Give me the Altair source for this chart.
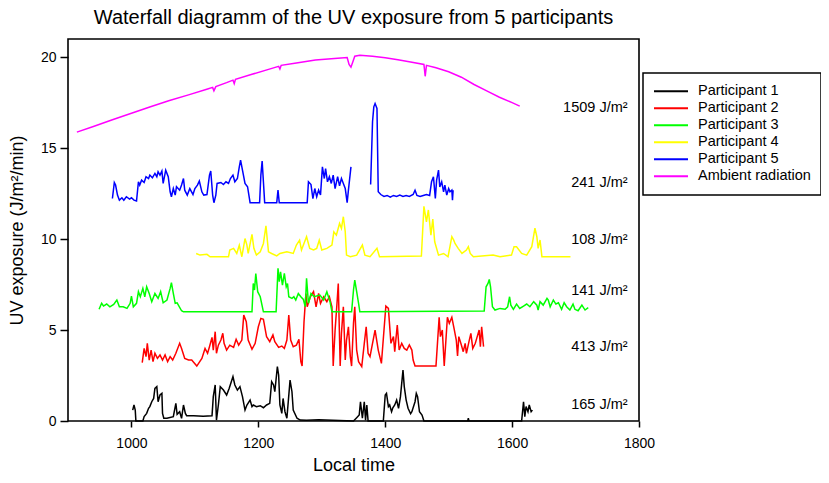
import altair as alt
import pandas as pd

FONT = "Liberation Sans"

chart_title = "Waterfall diagramm of the UV exposure from 5 participants"

names = ["Participant 1", "Participant 2", "Participant 3", "Participant 4",
         "Participant 5", "Ambient radiation"]
colors = ["#000000", "#ff0000", "#00ff00", "#ffff00", "#0000ff", "#ff00ff"]

# Participant 1 (black)
p1_t = [1002, 1004, 1006, 1007, 1018, 1020, 1024, 1027, 1029, 1032,
        1035, 1037, 1040, 1042, 1045, 1048, 1049, 1051, 1056, 1066,
        1070, 1072, 1076, 1079, 1082, 1085, 1087, 1098, 1113, 1127,
        1129, 1132, 1134, 1137, 1140, 1145, 1150, 1154, 1160, 1163,
        1167, 1171, 1175, 1179, 1182, 1187, 1190, 1192, 1197, 1203,
        1208, 1213, 1218, 1221, 1224, 1226, 1230, 1232, 1234, 1237,
        1239, 1242, 1245, 1250, 1253, 1255, 1261, 1266, 1276, 1295,
        1350, 1355, 1359, 1361, 1364, 1367, 1369, 1371, 1373, 1397,
        1400, 1402, 1405, 1407, 1410, 1412, 1415, 1418, 1421, 1424,
        1428, 1430, 1433, 1436, 1440, 1442, 1447, 1449, 1451, 1454,
        1458, 1461, 1530, 1531, 1532, 1615, 1618, 1620, 1622, 1625,
        1627, 1630, 1632]
p1_v = [0.60, 0.88, 0.60, 0.0, 0.0, 0.24, 0.42, 0.70, 0.79, 1.06,
        1.24, 1.79, 1.89, 1.06, 1.43, 1.52, 0.42, 0.15, 0.15, 0.24,
        0.97, 0.37, 0.51, 0.15, 0.88, 0.42, 0.29, 0.29, 0.26, 0.29,
        1.34, 1.98, 0.05, 0.88, 1.89, 1.70, 1.43, 1.79, 2.44, 1.98,
        1.70, 1.89, 1.34, 0.60, 0.88, 1.15, 0.79, 0.88, 0.79, 0.84,
        0.73, 0.88, 0.97, 2.16, 1.98, 1.61, 2.99, 2.53, 0.88, 0.42,
        1.24, 0.51, 0.15, 2.25, 1.61, 0.60, 0.15, 0.05, 0.04, 0.07,
        0.0, 0.18, 0.33, 1.06, 0.15, 1.06, 0.05, 0.88, 0.0, 0.0,
        1.43, 1.52, 0.79, 0.88, 0.51, 0.73, 0.88, 1.15, 0.70, 1.34,
        2.80, 1.89, 1.15, 0.70, 0.40, 0.51, 1.06, 1.52, 1.34, 0.51,
        0.33, 0.0, 0.0, 0.15, 0.0, 0.0, 1.06, 0.24, 0.79, 0.51,
        0.88, 0.51, 0.60]

# Participant 2 (red)
p2_t = [1017, 1020, 1023, 1025, 1028, 1031, 1034, 1037, 1041, 1045,
        1049, 1053, 1057, 1061, 1065, 1070, 1076, 1079, 1084, 1090,
        1095, 1103, 1111, 1116, 1120, 1123, 1127, 1129, 1132, 1134,
        1137, 1141, 1144, 1146, 1150, 1155, 1161, 1165, 1169, 1174,
        1177, 1181, 1184, 1190, 1195, 1200, 1204, 1208, 1213, 1218,
        1223, 1226, 1232, 1237, 1241, 1245, 1248, 1251, 1255, 1260,
        1264, 1267, 1269, 1272, 1275, 1277, 1282, 1287, 1291, 1295,
        1298, 1303, 1308, 1312, 1316, 1318, 1321, 1324, 1326, 1329,
        1331, 1334, 1337, 1339, 1342, 1345, 1347, 1350, 1352, 1355,
        1358, 1363, 1367, 1370, 1373, 1376, 1384, 1389, 1394, 1401,
        1405, 1409, 1413, 1415, 1419, 1422, 1426, 1430, 1434, 1438,
        1442, 1444, 1447, 1480, 1482, 1485, 1487, 1490, 1493, 1495,
        1498, 1501, 1505, 1508, 1512, 1514, 1516, 1520, 1523, 1526,
        1528, 1532, 1535, 1538, 1542, 1545, 1548, 1550, 1552, 1555]
p2_v = [3.21, 3.99, 3.54, 4.27, 3.35, 3.90, 3.26, 3.72, 3.44, 3.63,
        3.35, 3.63, 3.26, 3.54, 3.35, 3.72, 4.27, 3.99, 3.44, 3.35,
        3.35, 3.02, 3.44, 3.99, 3.72, 4.08, 4.60, 3.90, 4.91, 3.72,
        4.17, 4.45, 4.82, 4.27, 3.90, 4.17, 4.05, 4.49, 4.17, 4.45,
        5.82, 5.46, 4.45, 3.94, 4.27, 5.18, 5.64, 5.59, 4.63, 4.36,
        4.73, 4.36, 4.05, 4.12, 3.99, 4.45, 5.82, 4.45, 4.08, 4.17,
        4.49, 3.26, 3.02, 5.46, 7.01, 6.28, 6.83, 7.11, 6.28, 7.01,
        6.47, 6.83, 6.56, 6.83, 6.28, 3.02, 5.00, 6.47, 7.56, 3.02,
        4.82, 6.28, 3.35, 4.45, 5.18, 3.54, 3.02, 5.37, 6.28, 3.90,
        3.26, 2.99, 4.27, 5.18, 3.72, 3.54, 5.00, 3.90, 3.17, 6.32,
        6.19, 4.27, 4.64, 3.81, 5.28, 3.90, 4.27, 3.99, 3.90, 4.18,
        3.90, 3.35, 3.02, 3.02, 4.09, 5.70, 4.64, 5.00, 3.02, 4.09,
        5.70, 5.37, 5.70, 5.18, 4.45, 3.57, 4.64, 4.18, 3.81, 4.27,
        3.72, 4.36, 4.82, 3.99, 4.27, 4.64, 5.00, 4.09, 5.18, 4.09]

# Participant 3 (green)
p3_t = [949, 953, 956, 961, 966, 972, 977, 981, 987, 993,
        998, 1000, 1003, 1008, 1011, 1014, 1018, 1021, 1024, 1028,
        1032, 1037, 1042, 1046, 1050, 1056, 1061, 1063, 1066, 1069,
        1072, 1079, 1082, 1190, 1192, 1194, 1196, 1199, 1203, 1208,
        1228, 1231, 1233, 1235, 1238, 1241, 1244, 1246, 1248, 1253,
        1256, 1259, 1263, 1267, 1271, 1274, 1276, 1279, 1283, 1288,
        1297, 1303, 1308, 1313, 1316, 1347, 1350, 1352, 1355, 1358,
        1360, 1556, 1559, 1562, 1564, 1566, 1569, 1573, 1581, 1589,
        1593, 1596, 1598, 1602, 1607, 1612, 1618, 1623, 1628, 1634,
        1639, 1641, 1644, 1649, 1655, 1657, 1660, 1665, 1669, 1673,
        1678, 1682, 1686, 1691, 1696, 1699, 1704, 1710, 1715, 1720]
p3_v = [6.14, 6.47, 6.32, 6.43, 6.28, 6.41, 6.65, 6.28, 6.28, 6.19,
        6.47, 6.87, 6.28, 6.47, 7.11, 6.83, 7.29, 6.83, 7.38, 7.01,
        6.56, 7.01, 6.74, 7.11, 6.50, 6.65, 7.29, 7.60, 7.01, 6.47,
        6.50, 6.06, 6.00, 6.00, 7.56, 7.20, 8.11, 7.11, 6.83, 6.00,
        6.00, 8.39, 7.66, 8.20, 7.47, 8.11, 7.38, 7.56, 6.83, 6.74,
        6.83, 6.65, 7.01, 6.83, 6.68, 6.28, 7.84, 6.47, 7.01, 6.83,
        6.92, 6.65, 7.11, 6.56, 6.00, 6.00, 7.20, 7.75, 7.11, 6.47,
        6.00, 6.05, 7.38, 7.56, 7.78, 7.38, 6.28, 6.10, 6.19, 6.14,
        6.28, 6.83, 6.37, 6.14, 6.43, 6.19, 6.32, 6.43, 6.28, 6.56,
        6.37, 6.10, 6.56, 6.37, 6.74, 6.65, 6.28, 6.65, 6.43, 6.50,
        6.14, 6.50, 6.28, 6.10, 6.43, 6.14, 6.06, 6.37, 6.10, 6.23]

# Participant 4 (yellow)
p4_t = [1102, 1108, 1119, 1124, 1153, 1155, 1161, 1166, 1170, 1174,
        1179, 1182, 1184, 1190, 1193, 1197, 1203, 1208, 1212, 1216,
        1221, 1229, 1234, 1245, 1255, 1260, 1265, 1268, 1276, 1281,
        1287, 1292, 1296, 1300, 1308, 1316, 1319, 1323, 1328, 1331,
        1334, 1337, 1339, 1345, 1355, 1364, 1368, 1376, 1387, 1391,
        1457, 1461, 1465, 1468, 1472, 1475, 1478, 1484, 1492, 1499,
        1505, 1508, 1510, 1515, 1521, 1528, 1531, 1534, 1539, 1570,
        1581, 1599, 1603, 1607, 1615, 1623, 1631, 1636, 1639, 1641,
        1644, 1647, 1655, 1692]
p4_v = [9.21, 9.12, 9.16, 9.03, 9.03, 9.40, 9.49, 9.21, 9.66, 9.03,
        10.03, 9.67, 9.21, 10.26, 9.49, 9.12, 9.30, 9.76, 10.73, 9.30,
        9.21, 9.08, 9.21, 9.30, 9.21, 9.67, 9.94, 9.40, 10.13, 9.49,
        9.40, 9.49, 9.94, 9.40, 9.49, 9.67, 10.40, 10.22, 10.86, 10.59,
        11.23, 10.40, 9.12, 9.03, 9.12, 9.67, 9.12, 9.03, 9.49, 9.03,
        9.07, 11.80, 10.95, 11.60, 10.22, 11.10, 9.85, 9.12, 9.21, 9.03,
        10.13, 9.94, 9.76, 9.49, 9.21, 9.40, 9.58, 9.21, 9.03, 9.12,
        9.03, 9.12, 9.58, 9.58, 9.21, 9.12, 9.58, 10.60, 10.13, 9.49,
        9.95, 9.03, 9.03, 9.03]

# Participant 5 (blue), two recorded stretches
p5a_t = [970, 973, 975, 978, 981, 985, 988, 992, 997, 1000,
         1004, 1008, 1011, 1013, 1016, 1020, 1023, 1027, 1029, 1033,
         1037, 1040, 1042, 1045, 1048, 1050, 1054, 1058, 1061, 1063,
         1066, 1069, 1071, 1076, 1079, 1082, 1084, 1088, 1092, 1097,
         1100, 1104, 1107, 1111, 1114, 1119, 1123, 1125, 1128, 1130,
         1133, 1135, 1141, 1145, 1149, 1153, 1156, 1160, 1163, 1167,
         1170, 1172, 1175, 1179, 1183, 1187, 1202, 1204, 1206, 1208,
         1210, 1229, 1231, 1233, 1277, 1279, 1283, 1286, 1289, 1292,
         1295, 1298, 1301, 1304, 1306, 1309, 1312, 1315, 1318, 1321,
         1325, 1328, 1331, 1334, 1337, 1340, 1342, 1346]
p5a_v = [12.23, 13.11, 12.97, 12.42, 12.14, 12.27, 12.14, 12.33, 12.20, 12.27,
         12.14, 12.09, 13.15, 12.97, 13.24, 13.11, 13.43, 13.33, 13.52, 13.37,
         13.61, 13.43, 13.70, 13.52, 13.74, 13.06, 13.79, 13.43, 12.60, 12.33,
         12.78, 12.42, 12.88, 12.69, 12.97, 13.33, 12.69, 12.42, 12.78, 12.45,
         12.78, 12.97, 13.19, 12.60, 12.42, 12.45, 13.52, 13.74, 12.42, 12.00,
         12.42, 13.06, 13.11, 13.00, 13.15, 13.06, 13.33, 13.52, 13.15, 13.33,
         13.97, 14.34, 13.79, 13.06, 12.88, 12.00, 12.00, 13.52, 14.29, 13.15,
         12.00, 12.00, 12.69, 12.00, 12.00, 13.15, 13.00, 12.23, 12.78, 12.33,
         12.69, 12.42, 13.97, 13.33, 13.88, 13.15, 13.43, 13.06, 13.52, 12.78,
         13.43, 12.93, 13.33, 13.06, 12.78, 12.00, 12.69, 13.97]
p5b_t = [1377, 1380, 1382, 1384, 1387, 1389, 1393, 1398, 1403, 1408,
         1413, 1418, 1423, 1428, 1433, 1438, 1444, 1447, 1450, 1455,
         1460, 1465, 1470, 1473, 1476, 1479, 1481, 1484, 1486, 1489,
         1492, 1494, 1497, 1500, 1502, 1505, 1506, 1507]
p5b_v = [13.00, 16.45, 17.27, 17.45, 17.18, 12.60, 12.45, 12.35, 12.40, 12.30,
         12.40, 12.35, 12.42, 12.35, 12.40, 12.35, 12.45, 12.69, 12.40, 12.35,
         12.40, 12.45, 12.40, 13.15, 13.42, 12.24, 13.24, 13.79, 12.87, 13.15,
         12.60, 12.97, 12.42, 12.78, 12.60, 12.69, 12.14, 12.69]

# Ambient radiation (magenta)
amb_t = [914, 940, 970, 1000, 1030, 1060, 1090, 1120, 1128, 1130,
         1133, 1150, 1160, 1162, 1164, 1190, 1220, 1232, 1234, 1236,
         1260, 1290, 1320, 1340, 1343, 1346, 1349, 1352, 1360, 1380,
         1400, 1420, 1440, 1461, 1463, 1465, 1480, 1500, 1520, 1540,
         1560, 1580, 1600, 1612]
amb_v = [15.88, 16.19, 16.56, 16.92, 17.28, 17.62, 17.93, 18.25, 18.34, 18.15,
         18.38, 18.60, 18.74, 18.55, 18.78, 19.06, 19.37, 19.50, 19.35, 19.55,
         19.68, 19.85, 19.93, 19.98, 19.60, 19.45, 19.75, 20.05, 20.10, 20.05,
         19.97, 19.86, 19.74, 19.60, 18.95, 19.55, 19.42, 19.20, 18.90, 18.50,
         18.15, 17.80, 17.50, 17.31]

# Daily doses written at the right of each trace
dose_labels = ["1509 J/m²", "241 J/m²", "108 J/m²", "141 J/m²", "413 J/m²", "165 J/m²"]
dose_y = [17.18, 13.06, 9.95, 7.14, 4.08, 0.88]
dose_x = [1782] * len(dose_labels)

x_ticks = [1000, 1200, 1400, 1600, 1800]
y_ticks = [0, 5, 10, 15, 20]

rows = []
def add(name, ts, vs, seg):
    for t, v in zip(ts, vs):
        rows.append({"series": name, "time": t, "uv": v, "seg": seg})

add(names[0], p1_t, p1_v, "p1")
add(names[1], p2_t, p2_v, "p2")
add(names[2], p3_t, p3_v, "p3")
add(names[3], p4_t, p4_v, "p4")
add(names[4], p5a_t, p5a_v, "p5a")
add(names[4], p5b_t, p5b_v, "p5b")
add(names[5], amb_t, amb_v, "amb")
df = pd.DataFrame(rows)

text_df = pd.DataFrame({"time": dose_x, "uv": dose_y, "label": dose_labels})
title_df = pd.DataFrame({"title": [chart_title]})

x_enc = alt.X(
    "time:Q",
    scale=alt.Scale(domain=[900, 1800], nice=False, zero=False),
    axis=alt.Axis(values=x_ticks, format="d", title="Local time", grid=False,
                  domain=False, tickSize=6, tickWidth=1.5, tickColor="black",
                  labelFont=FONT, labelFontSize=14, labelColor="black",
                  labelPadding=9, labelFlush=False, labelOverlap=False,
                  titleFont=FONT, titleFontSize=18, titleFontWeight="normal",
                  titleColor="black", titleX=285.5, titleY=44.5,
                  titleBaseline="middle", titleAlign="center"),
)
y_enc = alt.Y(
    "uv:Q",
    scale=alt.Scale(domain=[0, 21], nice=False, zero=False),
    axis=alt.Axis(values=y_ticks, format="d", title="UV exposure (J/m²/min)",
                  grid=False, domain=False, tickSize=8, tickWidth=1.5,
                  tickColor="black",
                  labelFont=FONT, labelFontSize=14, labelColor="black",
                  labelPadding=4, labelFlush=False, labelOverlap=False,
                  titleFont=FONT, titleFontSize=18, titleFontWeight="normal",
                  titleColor="black", titleX=-51, titleY=191,
                  titleBaseline="middle", titleAlign="center", titleAngle=270),
)

lines = alt.Chart(df).mark_line(strokeWidth=1.5).encode(
    x=x_enc,
    y=y_enc,
    color=alt.Color(
        "series:N",
        scale=alt.Scale(domain=names, range=colors),
        legend=alt.Legend(
            title=None, orient="none", legendX=575, legendY=34,
            strokeColor="black", fillColor="white", padding=10,
            symbolType="stroke", symbolSize=1156, symbolStrokeWidth=2,
            labelFont=FONT, labelFontSize=14.5, labelColor="black",
            labelOffset=9, rowPadding=0, clipHeight=16.6, labelLimit=300,
        ),
    ),
    detail="seg:N",
)

texts = alt.Chart(text_df).mark_text(
    align="right", baseline="middle", font=FONT, fontSize=14.5, color="black"
).encode(
    x=alt.X("time:Q"),
    y=alt.Y("uv:Q"),
    text="label:N",
)

title_mark = alt.Chart(title_df).mark_text(
    align="center", baseline="alphabetic", font=FONT, fontSize=20, color="black"
).encode(
    x=alt.value(285.5),
    y=alt.value(-15.5),
    text="title:N",
)

chart = alt.layer(lines, texts, title_mark).properties(
    width=571,
    height=382,
    padding={"left": 60, "top": 31, "right": 182, "bottom": 54},
    autosize=alt.AutoSizeParams(type="none"),
).configure_view(
    stroke="black", strokeWidth=1.6
).configure_legend(
    strokeWidth=1.5
)

chart.save("out.html", embed_options={"renderer": "svg", "actions": False})
